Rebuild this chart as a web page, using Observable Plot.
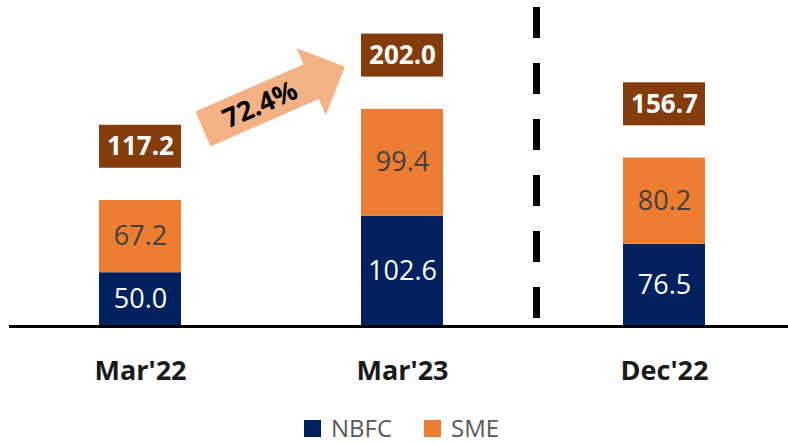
<!DOCTYPE html>
<html>
<head>
<meta charset="utf-8">
<script src="https://cdn.jsdelivr.net/npm/d3@7"></script>
<script src="https://cdn.jsdelivr.net/npm/@observablehq/plot@0.6"></script>
<style>
  html, body { margin: 0; padding: 0; background: #fff; }
  #chart { width: 788px; }
  svg g[aria-label^="x-axis"] text { font-weight: 700; fill: #1a1a1a; }
  .legend { display: flex; align-items: center; height: 28px; padding-left: 304px;
            font-family: "Open Sans", sans-serif; font-size: 24px; line-height: 28px; color: #595959; }
  .legend .item { display: flex; align-items: center; margin-right: 32px; }
  .legend .sw { width: 17px; height: 17px; margin-right: 10px; display: inline-block; }
</style>
</head>
<body>
<div id="chart"></div>
<script>
const categories = ["Mar'22", "Mar'23", "Dec'22"];
const series = ["NBFC", "SME"];
const nbfc = [50.0, 102.6, 76.5];
const sme = [67.2, 99.4, 80.2];
const totals = [117.2, 202.0, 156.7];
const growthLabel = "72.4%";
const colors = ["#002060", "#ED7D31"];

const fmt = d3.format(".1f");
const rows = [
  ...categories.map((c, i) => ({cat: c, series: "NBFC", value: nbfc[i]})),
  ...categories.map((c, i) => ({cat: c, series: "SME", value: sme[i]}))
];
const totalRows = categories.map((c, i) => ({cat: c, total: totals[i]}));

const chart = Plot.plot({
  width: 788,
  height: 414,
  marginLeft: 9,
  marginRight: 0,
  marginTop: 0,
  marginBottom: 88,
  x: {domain: categories, range: [99, 706], paddingInner: 0.687, paddingOuter: 0, axis: "bottom", tickSize: 0, tickPadding: 34, label: null},
  y: {domain: [0, 200], range: [326, 111], axis: null},
  color: {domain: series, range: colors},
  style: {fontFamily: "Open Sans, sans-serif", fontSize: "27px", background: "white", overflow: "visible"},
  marks: [
    Plot.barY(rows, Plot.stackY({x: "cat", y: "value", z: "series", fill: "series"})),
    Plot.text(rows, Plot.stackY({x: "cat", y: "value", z: "series",
      text: d => d.series === "NBFC" ? fmt(d.value) : "", fill: "white", fontSize: 27})),
    Plot.text(rows, Plot.stackY({x: "cat", y: "value", z: "series",
      text: d => d.series === "SME" ? fmt(d.value) : "", fill: "#404040", fontSize: 27})),
    Plot.barY(totalRows, {x: "cat", y1: d => d.total + 30, y2: d => d.total + 70, fill: "#843C0C"}),
    Plot.text(totalRows, {x: "cat", y: d => d.total + 50, text: d => fmt(d.total), fill: "white", fontWeight: "bold", fontSize: 26}),
    Plot.ruleX([categories[2]], {dx: -128, y1: 7.5, y2: 297, stroke: "black", strokeWidth: 7, strokeDasharray: "31,25"}),
    Plot.ruleY([0], {stroke: "black", strokeWidth: 3})
  ]
});

// growth arrow between first two bars, positioned from the scales
const sx = chart.scale("x"), sy = chart.scale("y");
const bw = sx.bandwidth;
const tailX = sx.apply(categories[0]) + bw + 22;
const tailY = sy.apply(totals[0]) - 71;
const tipX = sx.apply(categories[1]) - 16;
const tipY = sy.apply(totals[1]) - 42;
const L = Math.hypot(tipX - tailX, tipY - tailY);
const ang = Math.atan2(tipY - tailY, tipX - tailX) * 180 / Math.PI;
const hl = 37, sh = 19, hh = 36.5;
const g = d3.select(chart).append("g").attr("transform", `translate(${tailX},${tailY}) rotate(${ang})`);
g.append("polygon")
  .attr("points", [[0, -sh], [L - hl, -sh], [L - hl, -hh], [L, 0], [L - hl, hh], [L - hl, sh], [0, sh]].map(p => p.join(",")).join(" "))
  .attr("fill", "#F4B183");
g.append("text")
  .attr("x", 62).attr("y", 0).attr("dy", "0.36em")
  .attr("text-anchor", "middle")
  .attr("font-weight", "bold").attr("font-size", 27).attr("fill", "#000")
  .text(growthLabel);

// legend built from the same series / colour arrays
const legend = d3.create("div").attr("class", "legend");
series.forEach((s, i) => {
  const item = legend.append("div").attr("class", "item");
  item.append("span").attr("class", "sw").style("background", colors[i]);
  item.append("span").text(s);
});
const root = document.getElementById("chart");
root.appendChild(chart);
root.appendChild(legend.node());
</script>
</body>
</html>
